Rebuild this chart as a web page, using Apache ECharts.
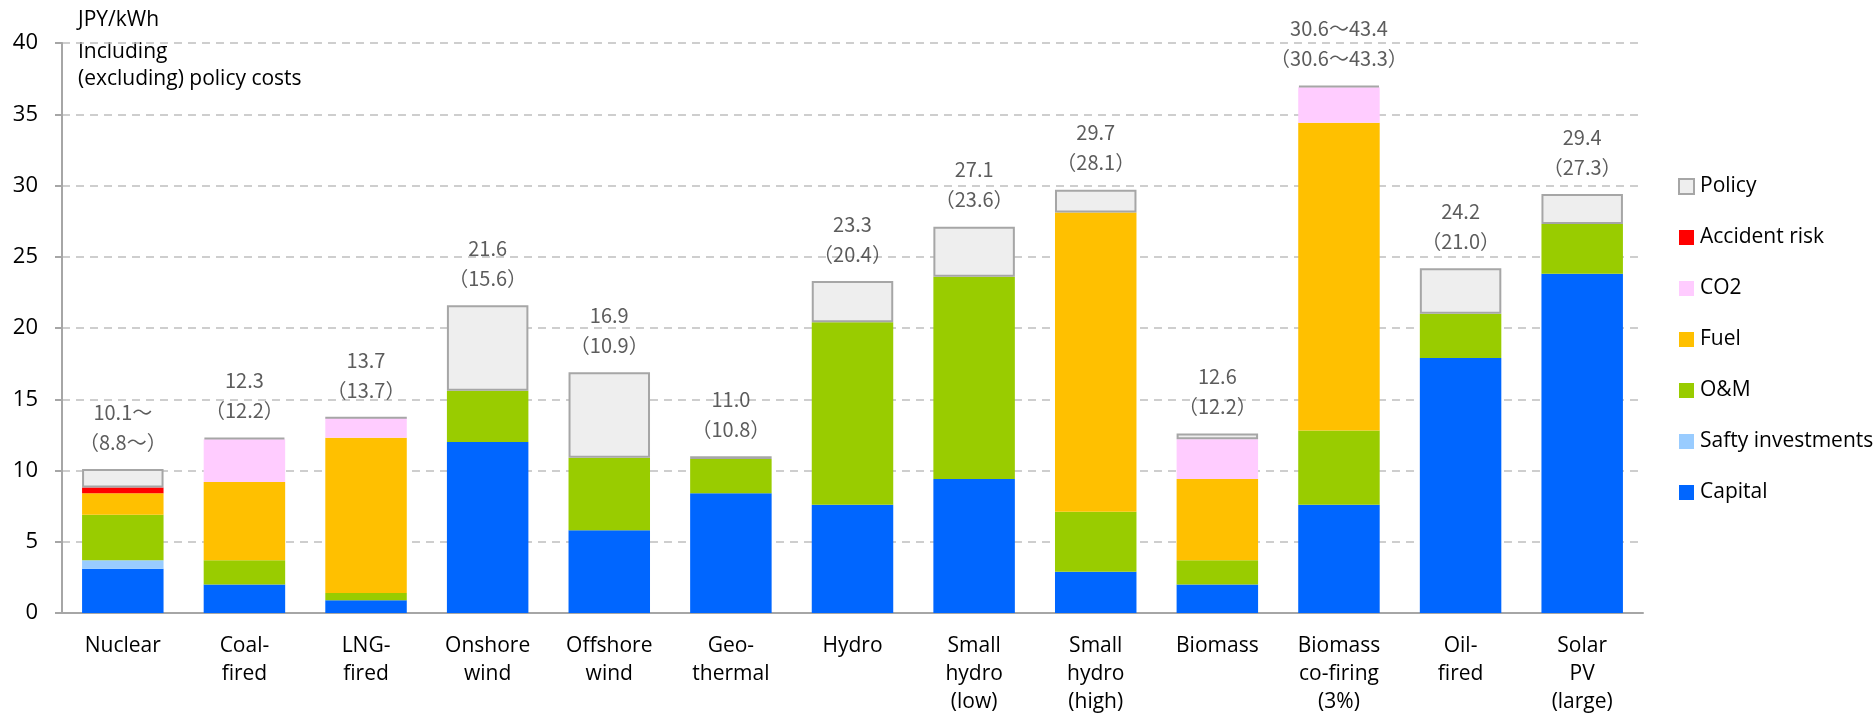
<!DOCTYPE html>
<html>
<head>
<meta charset="utf-8">
<script src="https://cdn.jsdelivr.net/npm/echarts@6/dist/echarts.min.js"></script>
<style>
  html, body { margin: 0; padding: 0; background: #fff; }
  #chart { width: 1874px; height: 716px; }
</style>
</head>
<body>
<div id="chart"></div>
<script>
// Generation cost by power source (JPY/kWh), stacked by cost component
const categories = [
  'Nuclear', 'Coal-\nfired', 'LNG-\nfired', 'Onshore\nwind', 'Offshore\nwind',
  'Geo-\nthermal', 'Hydro', 'Small\nhydro\n(low)', 'Small\nhydro\n(high)',
  'Biomass', 'Biomass\nco-firing\n(3%)', 'Oil-\nfired', 'Solar\nPV\n(large)'
];

const capital  = [3.1, 2.0, 0.9, 12.0, 5.8, 8.4, 7.6, 9.4, 2.9, 2.0, 7.6, 17.9, 23.8];
const safety   = [0.6, 0, 0, 0, 0, 0, 0, 0, 0, 0, 0, 0, 0];
const om       = [3.2, 1.7, 0.5, 3.6, 5.1, 2.4, 12.8, 14.2, 4.2, 1.7, 5.2, 3.1, 3.5];
const fuel     = [1.5, 5.5, 10.9, 0, 0, 0, 0, 0, 21.0, 5.7, 21.6, 0, 0];
const co2      = [0, 3.0, 1.4, 0, 0, 0, 0, 0, 0, 2.8, 2.5, 0, 0];
const accident = [0.4, 0, 0, 0, 0, 0, 0, 0, 0, 0, 0, 0, 0];
const policy   = [1.3, 0.1, 0, 6.0, 6.0, 0.2, 2.9, 3.5, 1.6, 0.4, 0.1, 3.2, 2.1];

// Cost labels: including policy costs / (excluding policy costs)
const labelIncl = ['10.1～', '12.3', '13.7', '21.6', '16.9', '11.0', '23.3', '27.1', '29.7', '12.6', '30.6～43.4', '24.2', '29.4'];
const labelExcl = ['（8.8～）', '（12.2）', '（13.7）', '（15.6）', '（10.9）', '（10.8）', '（20.4）', '（23.6）', '（28.1）', '（12.2）', '（30.6～43.3）', '（21.0）', '（27.3）'];

const yTicks = { min: 0, max: 40, interval: 5 };

const axisFont = "'Open Sans', Lato, sans-serif";
const labelFont = "'Noto Sans CJK JP', 'Noto Sans', sans-serif";

const totals = categories.map((_, i) =>
  +(capital[i] + safety[i] + om[i] + fuel[i] + co2[i] + accident[i] + policy[i]).toFixed(2));

function barSeries(name, data, color, extra) {
  return Object.assign({
    name: name,
    type: 'bar',
    stack: 'cost',
    barWidth: '67%',
    data: data,
    itemStyle: { color: color },
    emphasis: { disabled: true }
  }, extra || {});
}

const series = [
  barSeries('Capital', capital, '#0066FF'),
  barSeries('Safty investments', safety, '#99CCFF'),
  barSeries('O&M', om, '#99CC00'),
  barSeries('Fuel', fuel, '#FFC000'),
  barSeries('CO2', co2, '#FFCCFF'),
  barSeries('Accident risk', accident, '#FF0000'),
  barSeries('Policy', policy, '#EEEEEE', {
    itemStyle: { color: '#EEEEEE', borderColor: '#A6A6A6', borderWidth: 2 }
  }),
  {
    // two-line cost labels sitting on top of each stack
    name: 'totals',
    type: 'scatter',
    data: totals,
    symbolSize: 0,
    silent: true,
    z: 5,
    label: {
      show: true,
      position: 'top',
      distance: 12,
      fontFamily: labelFont,
      fontSize: 20,
      lineHeight: 30,
      color: '#333333',
      formatter: p => labelIncl[p.dataIndex] + '\n' + labelExcl[p.dataIndex]
    }
  }
];

const chart = echarts.init(document.getElementById('chart'));
chart.setOption({
  animation: false,
  backgroundColor: '#ffffff',
  grid: { left: 62, right: 231, top: 43, bottom: 103 },
  legend: {
    orient: 'vertical',
    left: 1673,
    top: 170,
    itemWidth: 15,
    itemHeight: 15,
    itemGap: 28,
    icon: 'rect',
    data: ['Policy', 'Accident risk', 'CO2', 'Fuel', 'O&M', 'Safty investments', 'Capital'],
    textStyle: { fontFamily: axisFont, fontSize: 21, color: '#000', lineHeight: 23, padding: [0, 0, 0, 1] }
  },
  xAxis: {
    type: 'category',
    data: categories,
    axisLine: { lineStyle: { color: '#A6A6A6', width: 2 } },
    axisTick: { show: false },
    axisLabel: {
      interval: 0,
      margin: 19,
      fontFamily: axisFont,
      fontSize: 21,
      lineHeight: 28,
      color: '#000',
      verticalAlign: 'top'
    }
  },
  yAxis: {
    type: 'value',
    min: yTicks.min,
    max: yTicks.max,
    interval: yTicks.interval,
    axisLine: { show: true, lineStyle: { color: '#A6A6A6', width: 2 } },
    axisTick: { show: true, inside: false, length: 7, lineStyle: { color: '#A6A6A6', width: 2 } },
    splitLine: { lineStyle: { color: '#BFBFBF', type: [8, 6], width: 1.5 } },
    axisLabel: { margin: 24, fontFamily: axisFont, fontSize: 22, color: '#000' }
  },
  graphic: [
    { type: 'text', left: 78, top: 10, style: { text: 'JPY/kWh', font: '21px ' + axisFont, fill: '#000' } },
    { type: 'text', left: 78, top: 42, style: { text: 'Including', font: '21px ' + axisFont, fill: '#000' } },
    { type: 'text', left: 78, top: 69, style: { text: '(excluding) policy costs', font: '21px ' + axisFont, fill: '#000' } }
  ],
  series: series
});
</script>
</body>
</html>
